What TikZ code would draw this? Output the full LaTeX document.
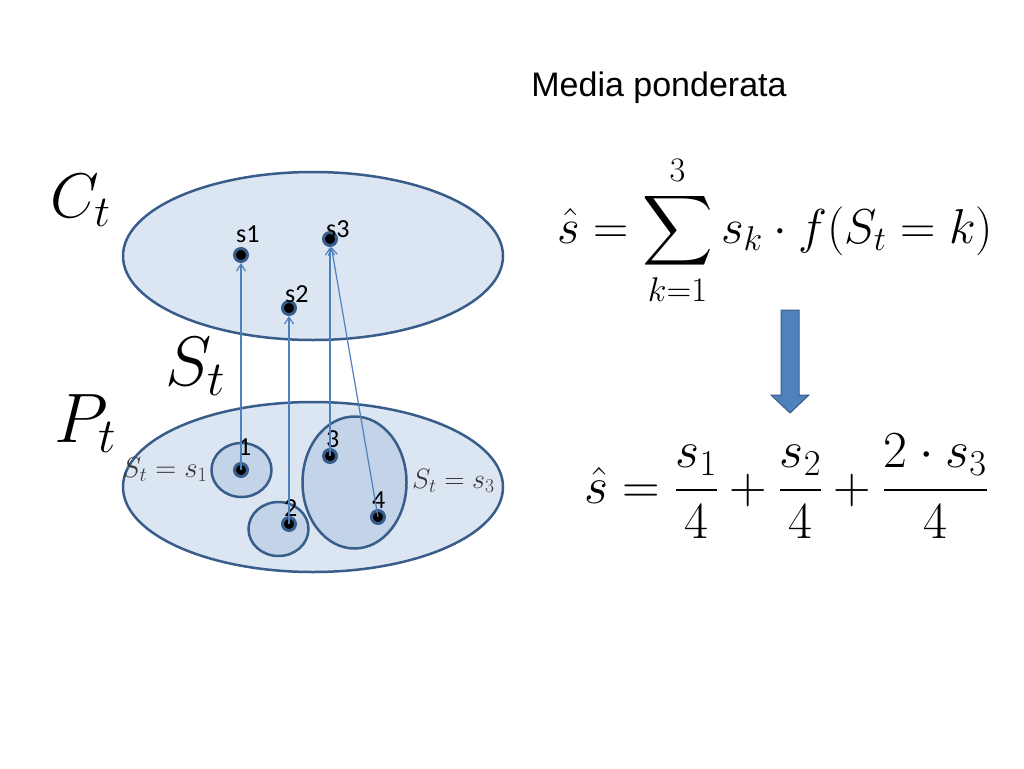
\RequirePackage{fix-cm}
\documentclass[tikz,border=0pt]{standalone}
\usepackage{fontspec}
\setmainfont{Liberation Sans}
\newfontfamily\calib{Carlito}
\usepackage{amsmath}
\DeclareFontShape{OMX}{cmex}{m}{n}{<->cmex10}{}
\usetikzlibrary{arrows.meta,calc,positioning}
\definecolor{lightfill}{HTML}{DCE6F2}
\definecolor{midfill}{HTML}{C3D3E8}
\definecolor{darkline}{HTML}{385D8A}
\definecolor{arrowblue}{HTML}{4F81BD}
\tikzset{
  pt/.style={circle, fill=black, draw=darkline, line width=3pt, inner sep=0pt, minimum size=13pt},
  lbl/.style={inner sep=0pt, anchor=base west, font=\calib\fontsize{26}{30}\selectfont},
  map/.style={draw=arrowblue, line width=1.2pt, -{Straight Barb[length=7pt,width=9pt]}},
}
\begin{document}
\begin{tikzpicture}[x=1pt,y=-1pt]
  \useasboundingbox[fill=white] (0,0) rectangle (1024,768);
  % the two sets
  \filldraw[fill=lightfill, draw=darkline, line width=2.5pt] (313,256) ellipse (190 and 84);
  \filldraw[fill=lightfill, draw=darkline, line width=2.5pt] (313,487) ellipse (190 and 85);
  \filldraw[fill=midfill, draw=darkline, line width=2.5pt] (241.5,470) ellipse (30 and 27);
  \filldraw[fill=midfill, draw=darkline, line width=2.5pt] (278.5,529) ellipse (30 and 27);
  \filldraw[fill=midfill, draw=darkline, line width=2.5pt] (354.5,482.5) ellipse (52 and 66);
  % big labels
  \node[inner sep=0pt, anchor=base west] (ct) at (50,217) {\fontsize{63}{70}\selectfont$C_t$};
  \node[inner sep=0pt, anchor=base west] (st) at (165,385) {\fontsize{70}{80}\selectfont$S_t$};
  \node[inner sep=0pt, anchor=base west] (ptl) at (54,442) {\fontsize{70}{80}\selectfont$P_t$};
  \node[inner sep=0pt, anchor=base west, text=black!78] (eq1) at (122,477) {\fontsize{29}{32}\selectfont$S_t=s_1$};
  \node[inner sep=0pt, anchor=base west, text=black!78] (eq3) at (412,488) {\fontsize{28}{32}\selectfont$S_t=s_3$};
  % points
  \node[pt] (c1) at (241,255) {};
  \node[pt] (c2) at (289,308) {};
  \node[pt] (c3) at (330,239) {};
  \node[pt] (p1) at (241,470) {};
  \node[pt] (p2) at (289,524) {};
  \node[pt] (p3) at (330,456) {};
  \node[pt] (p4) at (378,517) {};
  \node[lbl] (lc1) at (236,242) {s1};
  \node[lbl] (lc2) at (285,302) {s2};
  \node[lbl] (lc3) at (326,237) {s3};
  \node[lbl] (lp1) at (238,455) {1};
  \node[lbl] (lp2) at (284,516) {2};
  \node[lbl] (lp3) at (326,447) {3};
  \node[lbl] (lp4) at (372,508) {4};
  % mapping
  \draw[map] (p1.center) -- (c1);
  \draw[map] (p2.center) -- (c2);
  \draw[map] (p3.center) -- (c3);
  \draw[map] (p4.center) -- (c3);
  % right side
  \node[inner sep=0pt, anchor=base] (title) at (659,96) {\fontsize{34}{40}\selectfont Media ponderata};
  \node[inner sep=0pt, anchor=base] (sum) at (775,243)
    {\fontsize{49}{58}\selectfont$\displaystyle \hat{s}=\sum_{k=1}^{3} s_k\cdot f(S_t=k)$};
  \node[inner sep=0pt, anchor=base] (res) at (786,503)
    {\fontsize{52}{60}\selectfont$\displaystyle \hat{s}=\frac{s_1}{4}+\frac{s_2}{4}+\frac{2\cdot s_3}{4}$};
  \filldraw[fill=arrowblue, draw=darkline, line width=1pt]
    (781,310) -- (799,310) -- (799,395) -- (809,395) -- (790,413) -- (771,395) -- (781,395) -- cycle;
\end{tikzpicture}
\end{document}
